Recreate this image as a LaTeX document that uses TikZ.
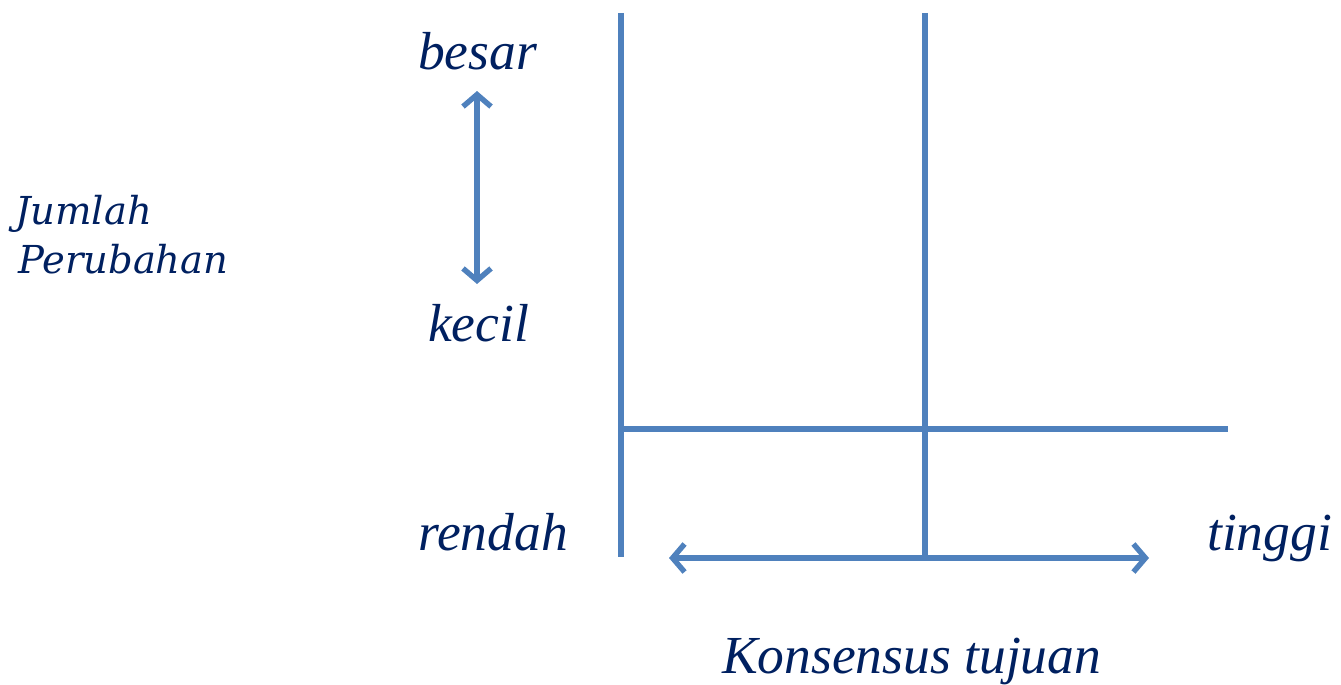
\documentclass[tikz,border=0pt]{standalone}
\usepackage{fontspec}
\setmainfont{Liberation Serif}
\newfontfamily\dvfont{DejaVu Serif}
\usetikzlibrary{arrows.meta}
\definecolor{lineblue}{RGB}{79,129,189}
\definecolor{txtnavy}{RGB}{0,32,96}
\tikzset{
  axis/.style={draw=lineblue, line width=5.4pt},
  dblarrow/.style={draw=lineblue, line width=5.4pt, {Straight Barb[length=12pt,width=28pt]}-{Straight Barb[length=12pt,width=28pt]}},
  lbl/.style={text=txtnavy, font=\fontsize{53.5}{60}\selectfont\itshape, inner sep=0pt, anchor=base west},
  sidelbl/.style={text=txtnavy, font=\dvfont\fontsize{38.5}{48}\selectfont\itshape, inner sep=0pt, anchor=base west}
}
\begin{document}
\begin{tikzpicture}[x=1pt,y=-1pt]
\useasboundingbox (0,0) rectangle (1341,685);
% axes
\coordinate (l1) at (621,13);
\coordinate (l2) at (621,557);
\coordinate (m1) at (925,13);
\coordinate (m2) at (925,557);
\coordinate (h1) at (621,429);
\coordinate (h2) at (1228,429);
\coordinate (a1) at (669,558);
\coordinate (a2) at (1149,558);
\coordinate (v1) at (477,91);
\coordinate (v2) at (477,284);
\draw[axis] (l1) -- (l2);
\draw[axis] (m1) -- (m2);
\draw[axis] (h1) -- (h2);
\draw[dblarrow] (a1) -- (a2);
\draw[dblarrow] (v1) -- (v2);
% labels
\node[lbl] (besar) at (418,70) {besar};
\node[lbl] (kecil) at (428,341) {kecil};
\node[lbl] (rendah) at (418,550) {rendah};
\node[lbl] (tinggi) at (1207,550) {tinggi};
\node[lbl] (kons) at (722,673) {Konsensus tujuan};
\node[sidelbl] (jumlah) at (15,224) {Jumlah};
\node[sidelbl] (perub) at (18,273) {Perubahan};
\end{tikzpicture}
\end{document}
